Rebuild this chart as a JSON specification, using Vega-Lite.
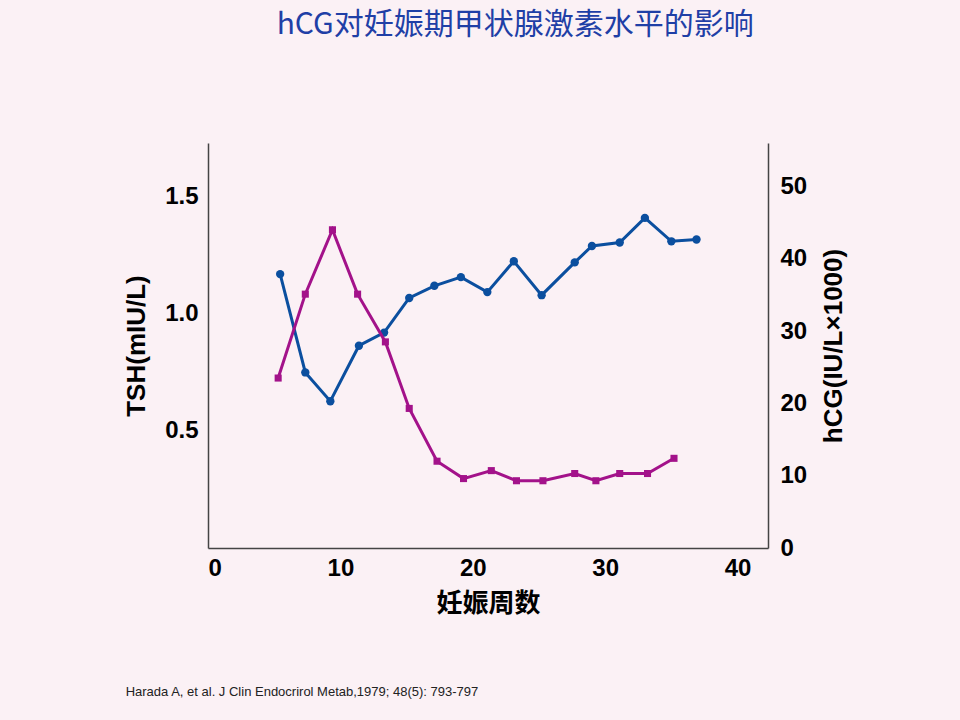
{
  "$schema": "https://vega.github.io/schema/vega-lite/v6.json",
  "background": "#fbf1f5",
  "padding": {"left": 123, "top": 10, "right": 120, "bottom": 30},
  "title": {"text": "hCG对妊娠期甲状腺激素水平的影响", "fontSize": 30, "font": "Noto Sans CJK SC", "fontWeight": "normal", "color": "#1f3fa6", "offset": 103, "anchor": "middle", "dx": 30},
  "config": {"view": {"stroke": null}, "axis": {"grid": false, "labelFont": "Liberation Sans", "labelFontWeight": "bold", "labelFontSize": 24, "labelColor": "black", "titleFont": "Noto Sans CJK SC", "titleFontSize": 26, "titleFontWeight": "bold", "titleColor": "black", "domainColor": "#444", "tickColor": "#444", "domainWidth": 1.5}},
  "vconcat": [{
    "width": 560,
    "height": 405,
    "title": {"text": "Harada A, et al.  J Clin Endocrirol Metab,1979; 48(5): 793-797", "orient": "bottom", "anchor": "start", "fontSize": 13, "fontWeight": "normal", "font": "Liberation Sans", "color": "#222", "offset": 70, "dx": 2},
    "data": {"values": [
      {"week": 5.45, "v": 1.17, "s": "TSH"}, {"week": 7.35, "v": 0.75, "s": "TSH"}, {"week": 9.24, "v": 0.627, "s": "TSH"},
      {"week": 11.4, "v": 0.864, "s": "TSH"}, {"week": 13.3, "v": 0.92, "s": "TSH"}, {"week": 15.2, "v": 1.068, "s": "TSH"},
      {"week": 17.1, "v": 1.12, "s": "TSH"}, {"week": 19.1, "v": 1.157, "s": "TSH"}, {"week": 21.1, "v": 1.093, "s": "TSH"},
      {"week": 23.1, "v": 1.225, "s": "TSH"}, {"week": 25.2, "v": 1.08, "s": "TSH"}, {"week": 27.7, "v": 1.22, "s": "TSH"},
      {"week": 29.0, "v": 1.29, "s": "TSH"}, {"week": 31.1, "v": 1.305, "s": "TSH"}, {"week": 33.0, "v": 1.41, "s": "TSH"},
      {"week": 35.0, "v": 1.31, "s": "TSH"}, {"week": 36.9, "v": 1.318, "s": "TSH"},
      {"week": 5.3, "v": 23.5, "s": "hCG"}, {"week": 7.35, "v": 35.1, "s": "hCG"}, {"week": 9.4, "v": 44.0, "s": "hCG"},
      {"week": 11.3, "v": 35.1, "s": "hCG"}, {"week": 13.4, "v": 28.5, "s": "hCG"}, {"week": 15.2, "v": 19.3, "s": "hCG"},
      {"week": 17.3, "v": 12.0, "s": "hCG"}, {"week": 19.3, "v": 9.6, "s": "hCG"}, {"week": 21.4, "v": 10.7, "s": "hCG"},
      {"week": 23.3, "v": 9.3, "s": "hCG"}, {"week": 25.3, "v": 9.3, "s": "hCG"}, {"week": 27.7, "v": 10.3, "s": "hCG"},
      {"week": 29.3, "v": 9.3, "s": "hCG"}, {"week": 31.1, "v": 10.3, "s": "hCG"}, {"week": 33.2, "v": 10.3, "s": "hCG"},
      {"week": 35.2, "v": 12.4, "s": "hCG"}
    ]},
    "encoding": {
      "x": {"field": "week", "type": "quantitative", "title": "妊娠周数", "scale": {"domain": [0, 42.3], "nice": false}, "axis": {"values": [0, 10, 20, 30, 40], "tickSize": 0, "labelPadding": 8, "titlePadding": 10}}
    },
    "layer": [
      {
        "transform": [{"filter": "datum.s == 'TSH'"}],
        "mark": {"type": "line", "color": "#0b4f9f", "strokeWidth": 3, "point": {"size": 70, "filled": true, "color": "#0b4f9f"}},
        "encoding": {"y": {"field": "v", "type": "quantitative", "title": "TSH(mIU/L) ", "scale": {"domain": [0, 1.73], "nice": false}, "axis": {"values": [0.5, 1.0, 1.5], "format": ".1f", "tickSize": 0, "labelPadding": 10, "titlePadding": 15, "titleFont": "Liberation Sans"}}}
      },
      {
        "transform": [{"filter": "datum.s == 'hCG'"}],
        "mark": {"type": "line", "color": "#a3128a", "strokeWidth": 3, "point": {"shape": "square", "size": 50, "filled": true, "color": "#a3128a"}},
        "encoding": {"y": {"field": "v", "type": "quantitative", "title": "hCG(IU/L×1000)", "scale": {"domain": [0, 56], "nice": false}, "axis": {"orient": "right", "values": [0, 10, 20, 30, 40, 50], "tickSize": 0, "labelPadding": 12, "titlePadding": 40, "titleAngle": 270, "titleFont": "Liberation Sans"}}}
      }
    ],
    "resolve": {"scale": {"y": "independent"}}
  }]
}
